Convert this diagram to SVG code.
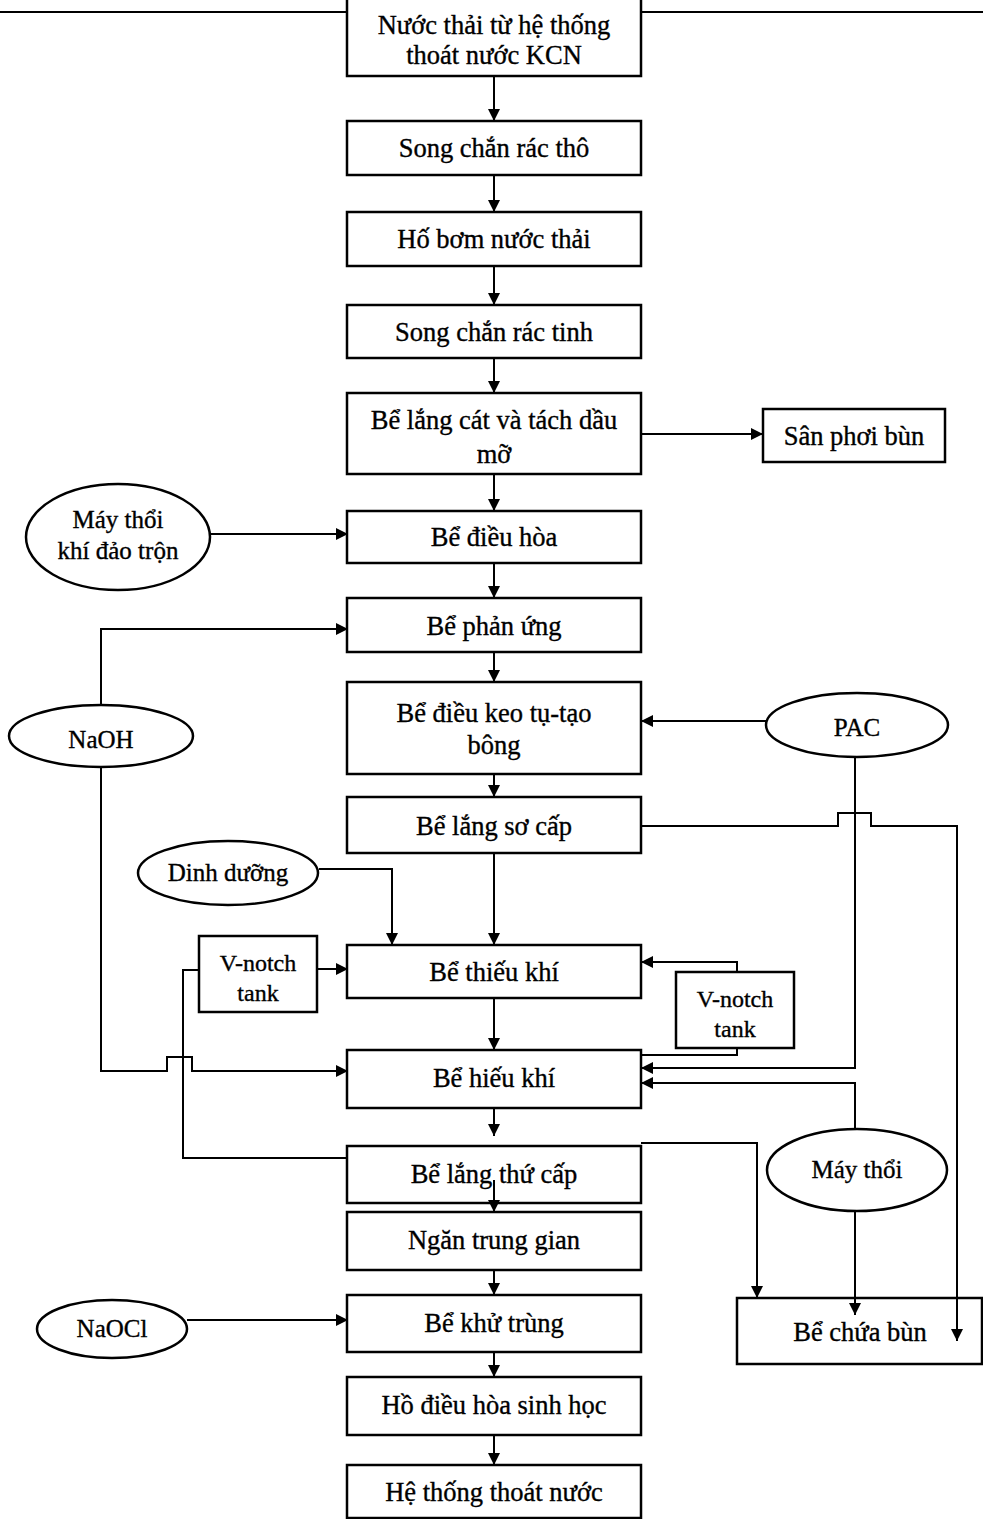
<svg xmlns="http://www.w3.org/2000/svg" width="983" height="1519" viewBox="0 0 983 1519">
<defs>
<marker id="arr" markerUnits="userSpaceOnUse" markerWidth="12" markerHeight="12" refX="12" refY="6" orient="auto">
<path d="M0,0 L12,6 L0,12 z" fill="#000"/>
</marker>
</defs>
<style>
.box{fill:#fff;stroke:#000;stroke-width:2.5}
.ell{fill:#fff;stroke:#000;stroke-width:2.5}
.t{font-family:"Liberation Serif","Times New Roman",serif;font-size:26.5px;fill:#000;stroke:#000;stroke-width:0.35;text-anchor:middle}
.te{font-size:25px}
.tv{font-size:24px}
.c{fill:none;stroke:#000;stroke-width:2}
.ca{fill:none;stroke:#000;stroke-width:2;marker-end:url(#arr)}
</style>
<rect x="0" y="0" width="983" height="1519" fill="#fff"/>
<g id="n1"><rect class="box" x="347" y="-2" width="294" height="78"/><text class="t" x="494" y="34">Nước thải từ hệ thống</text><text class="t" x="494" y="64">thoát nước KCN</text></g>
<g id="n2"><rect class="box" x="347" y="121" width="294" height="54"/><text class="t" x="494" y="157">Song chắn rác thô</text></g>
<g id="n3"><rect class="box" x="347" y="212" width="294" height="54"/><text class="t" x="494" y="248">Hố bơm nước thải</text></g>
<g id="n4"><rect class="box" x="347" y="305" width="294" height="53"/><text class="t" x="494" y="341">Song chắn rác tinh</text></g>
<g id="n5"><rect class="box" x="347" y="393" width="294" height="81"/><text class="t" x="494" y="429">Bể lắng cát và tách dầu</text><text class="t" x="494" y="463">mỡ</text></g>
<g id="n6"><rect class="box" x="347" y="511" width="294" height="52"/><text class="t" x="494" y="546">Bể điều hòa</text></g>
<g id="n7"><rect class="box" x="347" y="598" width="294" height="54"/><text class="t" x="494" y="635">Bể phản ứng</text></g>
<g id="n8"><rect class="box" x="347" y="682" width="294" height="92"/><text class="t" x="494" y="722">Bể điều keo tụ-tạo</text><text class="t" x="494" y="754">bông</text></g>
<g id="n9"><rect class="box" x="347" y="797" width="294" height="56"/><text class="t" x="494" y="835">Bể lắng sơ cấp</text></g>
<g id="n10"><rect class="box" x="347" y="945" width="294" height="53"/><text class="t" x="494" y="981">Bể thiếu khí</text></g>
<g id="n11"><rect class="box" x="347" y="1050" width="294" height="58"/><text class="t" x="494" y="1087">Bể hiếu khí</text></g>
<g id="n12"><rect class="box" x="347" y="1146" width="294" height="57"/><text class="t" x="494" y="1183">Bể lắng thứ cấp</text></g>
<g id="n13"><rect class="box" x="347" y="1212" width="294" height="58"/><text class="t" x="494" y="1249">Ngăn trung gian</text></g>
<g id="n14"><rect class="box" x="347" y="1295" width="294" height="57"/><text class="t" x="494" y="1332">Bể khử trùng</text></g>
<g id="n15"><rect class="box" x="347" y="1377" width="294" height="58"/><text class="t" x="494" y="1414">Hồ điều hòa sinh học</text></g>
<g id="n16"><rect class="box" x="347" y="1465" width="294" height="53"/><text class="t" x="494" y="1501">Hệ thống thoát nước</text></g>
<g id="san-phoi-bun"><rect class="box" x="763" y="409" width="182" height="53"/><text class="t" x="854" y="445">Sân phơi bùn</text></g>
<g id="may-thoi-khi"><ellipse class="ell" cx="118" cy="537" rx="92" ry="53"/><text class="t te" x="118" y="528">Máy thổi</text><text class="t te" x="118" y="559">khí đảo trộn</text></g>
<g id="naoh"><ellipse class="ell" cx="101" cy="736" rx="92" ry="31"/><text class="t te" x="101" y="748">NaOH</text></g>
<g id="pac"><ellipse class="ell" cx="857" cy="725" rx="91" ry="32"/><text class="t te" x="857" y="736">PAC</text></g>
<g id="dinh-duong"><ellipse class="ell" cx="228" cy="873" rx="90" ry="32"/><text class="t te" x="228" y="881">Dinh dưỡng</text></g>
<g id="vnotch-left"><rect class="box" x="199" y="936" width="118" height="76"/><text class="t tv" x="258" y="971">V-notch</text><text class="t tv" x="258" y="1001">tank</text></g>
<g id="vnotch-right"><rect class="box" x="676" y="972" width="118" height="76"/><text class="t tv" x="735" y="1007">V-notch</text><text class="t tv" x="735" y="1037">tank</text></g>
<g id="may-thoi"><ellipse class="ell" cx="857" cy="1170" rx="90" ry="41"/><text class="t te" x="857" y="1178">Máy thổi</text></g>
<g id="be-chua-bun"><rect class="box" x="737" y="1298" width="245" height="66"/><text class="t" x="860" y="1341">Bể chứa bùn</text></g>
<g id="naocl"><ellipse class="ell" cx="112" cy="1329" rx="75" ry="29"/><text class="t te" x="112" y="1337">NaOCl</text></g>
<g id="connectors">
<path class="c" d="M0,12 H347"/>
<path class="c" d="M641,12 H983"/>
<path class="ca" d="M494,76 V121"/>
<path class="ca" d="M494,175 V212"/>
<path class="ca" d="M494,266 V305"/>
<path class="ca" d="M494,358 V393"/>
<path class="ca" d="M494,474 V511"/>
<path class="ca" d="M494,563 V598"/>
<path class="ca" d="M494,652 V682"/>
<path class="ca" d="M494,774 V797"/>
<path class="ca" d="M494,853 V945"/>
<path class="ca" d="M494,998 V1050"/>
<path class="ca" d="M494,1108 V1136"/>
<path class="ca" d="M494,1180 V1212"/>
<path class="ca" d="M494,1270 V1295"/>
<path class="ca" d="M494,1352 V1377"/>
<path class="ca" d="M494,1435 V1465"/>
<path class="ca" d="M641,434 H763"/>
<path class="ca" d="M210,534 H348"/>
<path class="ca" d="M101,705 V629 H348"/>
<path class="ca" d="M101,767 V1071 H167 V1057 H192 V1071 H348"/>
<path class="ca" d="M319,869 H392 V945"/>
<path class="ca" d="M317,969 H348"/>
<path class="c" d="M199,970 H183 V1158 H348"/>
<path class="ca" d="M767,721 H641"/>
<path class="ca" d="M737,972 V962 H641"/>
<path class="c" d="M737,1048 V1055 H641"/>
<path class="ca" d="M855,757 V1068 H641"/>
<path class="ca" d="M855,1129 V1083 H641"/>
<path class="ca" d="M641,826 H838 V813 H871 V826 H957 V1341"/>
<path class="ca" d="M855,1211 V1315"/>
<path class="ca" d="M641,1143 H757 V1298"/>
<path class="ca" d="M187,1320 H348"/>
</g>
</svg>
